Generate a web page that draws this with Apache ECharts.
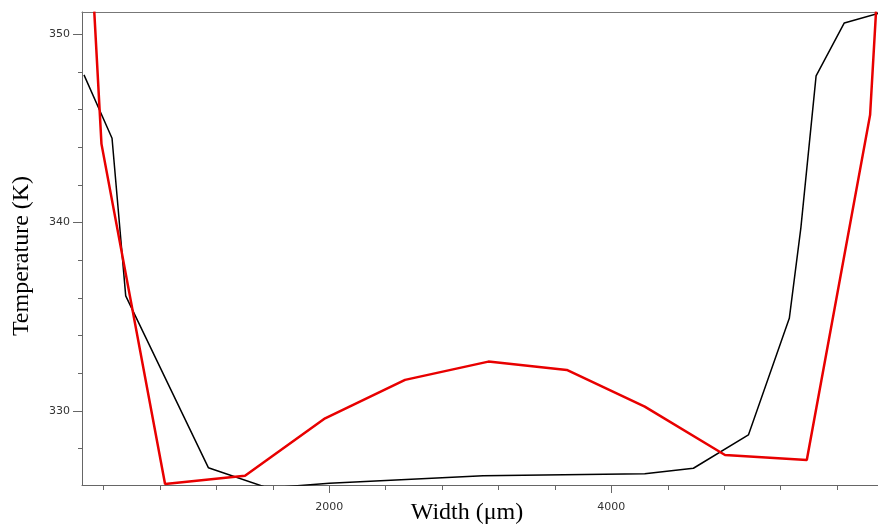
<!DOCTYPE html>
<html>
<head>
<meta charset="utf-8">
<script src="https://cdn.jsdelivr.net/npm/echarts@6/dist/echarts.min.js"></script>
<style>
  html, body { margin: 0; padding: 0; background: #fff; }
  #chart { width: 878px; height: 526px; }
</style>
</head>
<body>
<div id="chart"></div>
<script>
// Axis ticks
const xMajorTicks = [2000, 4000];
const xMinorTicks = [400, 800, 1200, 1600, 2400, 2800, 3200, 3600, 4400, 4800, 5200, 5600];
const yMajorTicks = [330, 340, 350];
const yMinorTicks = [328, 332, 334, 336, 338, 342, 344, 346, 348];

// Black curve
const blackX = [260, 459, 556, 1142, 1565, 2000, 3090, 4237, 4582, 4972, 5262, 5344, 5452, 5652, 5891];
const blackY = [347.84, 344.48, 336.11, 326.99, 325.91, 326.16, 326.56, 326.67, 326.96, 328.73, 334.92, 339.72, 347.79, 350.6, 351.1];

// Red curve
const redX = [333, 384, 835, 1402, 1970, 2537, 3128, 3684, 4237, 4806, 5386, 5835, 5877];
const redY = [351.2, 344.18, 326.12, 326.56, 329.61, 331.65, 332.62, 332.18, 330.23, 327.66, 327.4, 345.72, 351.2];

const xMin = 246, xMax = 5891;
const yMin = 326.07, yMax = 351.18;

const pairs = (xs, ys) => xs.map((x, i) => [x, ys[i]]);

const axisLineStyle = { color: '#666', width: 1 };
const labelStyle = { color: '#333', fontFamily: 'DejaVu Sans', fontSize: 11, formatter: v => String(v) };

const chart = echarts.init(document.getElementById('chart'), null, { renderer: 'canvas' });
chart.setOption({
  animation: false,
  backgroundColor: '#fff',
  grid: { left: 82, right: 0, top: 12, bottom: 41, containLabel: false },
  xAxis: [
    {
      type: 'value', position: 'bottom', min: xMin, max: xMax,
      axisLine: { show: true, lineStyle: axisLineStyle },
      axisTick: { show: true, customValues: xMajorTicks, length: 8, lineStyle: axisLineStyle },
      axisLabel: { show: true, customValues: xMajorTicks, margin: 17, ...labelStyle },
      splitLine: { show: false }
    },
    {
      type: 'value', position: 'bottom', min: xMin, max: xMax, offset: 0,
      axisLine: { show: false },
      axisTick: { show: true, customValues: xMinorTicks, length: 5, lineStyle: axisLineStyle },
      axisLabel: { show: false },
      splitLine: { show: false }
    },
    {
      type: 'value', position: 'top', min: xMin, max: xMax, offset: 0,
      axisLine: { show: true, lineStyle: { color: '#777', width: 1 } },
      axisTick: { show: false },
      axisLabel: { show: false },
      splitLine: { show: false }
    }
  ],
  yAxis: [
    {
      type: 'value', position: 'left', min: yMin, max: yMax,
      axisLine: { show: true, lineStyle: axisLineStyle },
      axisTick: { show: true, customValues: yMajorTicks, length: 9, lineStyle: axisLineStyle },
      axisLabel: { show: true, customValues: yMajorTicks, margin: 12, ...labelStyle },
      splitLine: { show: false }
    },
    {
      type: 'value', position: 'left', min: yMin, max: yMax, offset: 0,
      axisLine: { show: false },
      axisTick: { show: true, customValues: yMinorTicks, length: 4, lineStyle: axisLineStyle },
      axisLabel: { show: false },
      splitLine: { show: false }
    }
  ],
  graphic: [
    {
      type: 'text', x: 467, y: 513,
      style: { text: 'Width (\u03bcm)', font: '24px "Liberation Serif"', fill: '#000', align: 'center', verticalAlign: 'middle' }
    },
    {
      type: 'text', x: 21.5, y: 256, rotation: Math.PI / 2,
      style: { text: 'Temperature (K)', font: '24px "Liberation Serif"', fill: '#000', align: 'center', verticalAlign: 'middle' }
    }
  ],
  series: [
    {
      type: 'line', xAxisIndex: 0, yAxisIndex: 0, data: pairs(blackX, blackY),
      symbol: 'none', clip: true,
      lineStyle: { color: '#000', width: 1.5 }
    },
    {
      type: 'line', xAxisIndex: 0, yAxisIndex: 0, data: pairs(redX, redY),
      symbol: 'none', clip: true,
      lineStyle: { color: '#e80000', width: 2.5 }
    }
  ]
});
</script>
</body>
</html>
